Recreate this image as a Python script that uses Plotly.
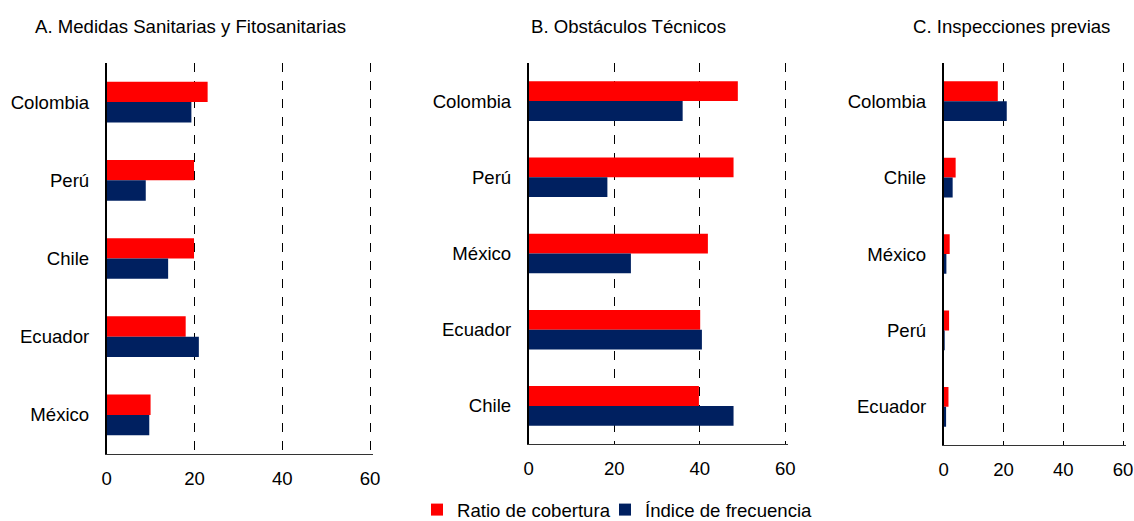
import plotly.graph_objects as go

# Panel A: Medidas Sanitarias y Fitosanitarias
cats_a = ["Colombia", "Perú", "Chile", "Ecuador", "México"]
ratio_a = [23.0, 19.9, 19.9, 18.0, 10.0]
indice_a = [19.3, 8.9, 14.0, 21.0, 9.7]

# Panel B: Obstáculos Técnicos
cats_b = ["Colombia", "Perú", "México", "Ecuador", "Chile"]
ratio_b = [48.9, 47.9, 41.9, 40.1, 39.8]
indice_b = [36.0, 18.4, 23.9, 40.5, 47.9]

# Panel C: Inspecciones previas
cats_c = ["Colombia", "Chile", "México", "Perú", "Ecuador"]
ratio_c = [18.1, 4.0, 2.0, 1.8, 1.6]
indice_c = [21.1, 3.0, 0.9, 0.3, 0.8]

titles = ["A. Medidas Sanitarias y Fitosanitarias", "B. Obstáculos Técnicos", "C. Inspecciones previas"]
x_ticks = [0, 20, 40, 60]

RED = "#FF0000"
NAVY = "#002060"
FONT = "Liberation Sans, Arial, sans-serif"
FS = 18.6

W, H = 1134, 521

# pixel boxes of each plot area: (left, right, top, bottom)
boxes = [(106.7, 370.0, 63, 454), (528.7, 785.3, 63, 444), (943.7, 1123.0, 63, 445)]
title_x = [190.5, 628.5, 1011.0]

panels = [(cats_a, ratio_a, indice_a), (cats_b, ratio_b, indice_b), (cats_c, ratio_c, indice_c)]

fig = go.Figure()
for i, (cats, ratio, indice) in enumerate(panels):
    sfx = "" if i == 0 else str(i + 1)
    fig.add_trace(go.Bar(
        y=cats, x=ratio, orientation="h", name="Ratio de cobertura",
        marker=dict(color=RED, line=dict(width=0)),
        xaxis="x" + sfx, yaxis="y" + sfx, showlegend=(i == 0),
        legendgroup="ratio", legend="legend",
    ))
    fig.add_trace(go.Bar(
        y=cats, x=indice, orientation="h", name="Índice de frecuencia",
        marker=dict(color=NAVY, line=dict(width=0)),
        xaxis="x" + sfx, yaxis="y" + sfx, showlegend=(i == 0),
        legendgroup="indice", legend="legend2",
    ))

EXTRA = 3  # px of slack past 60 so the last dashed gridline is drawn
layout = {}
for i, (l, r, t, b) in enumerate(boxes):
    sfx = "" if i == 0 else str(i + 1)
    xr = 60 * (1 + EXTRA / (r - l))
    layout["xaxis" + sfx] = dict(
        domain=[l / W, (r + EXTRA) / W], range=[0, xr], tickvals=x_ticks,
        showgrid=True, gridcolor="black", griddash="dash", gridwidth=1,
        zeroline=False, showline=True, linecolor="#333333", linewidth=1,
        anchor="y" + sfx, ticks="", ticklabelstandoff=8, automargin=False,
        tickfont=dict(size=FS, color="black", family=FONT),
        fixedrange=True,
    )
    layout["yaxis" + sfx] = dict(
        domain=[1 - b / H, 1 - t / H], type="category",
        categoryorder="array", categoryarray=panels[i][0], autorange="reversed",
        showgrid=False, zeroline=False, showline=True, linecolor="black", linewidth=1.5,
        anchor="x" + sfx, ticks="", ticklabelstandoff=12, automargin=False,
        tickfont=dict(size=FS, color="black", family=FONT),
        fixedrange=True,
    )

annotations = [
    dict(text=txt, x=tx / W, y=1 - 26 / H, xref="paper", yref="paper",
         xanchor="center", yanchor="middle", showarrow=False,
         font=dict(size=FS, color="black", family=FONT))
    for txt, tx in zip(titles, title_x)
]

leg_common = dict(
    orientation="h", xanchor="left", y=1 - 510 / H, yanchor="middle",
    font=dict(size=FS, color="black", family=FONT), itemwidth=30,
    bgcolor="rgba(0,0,0,0)",
)

fig.update_layout(
    **layout,
    barmode="group", bargap=0.48, bargroupgap=0,
    width=W, height=H,
    margin=dict(l=0, r=0, t=0, b=0, autoexpand=False),
    plot_bgcolor="white", paper_bgcolor="white",
    font=dict(family=FONT, size=FS, color="black"),
    annotations=annotations,
    legend=dict(x=417 / W, **leg_common),
    legend2=dict(x=605 / W, **leg_common),
)

fig.write_html(
    "out.html",
    config={"displayModeBar": False},
    post_script="document.body.style.margin='0';document.body.style.overflow='hidden';",
)
